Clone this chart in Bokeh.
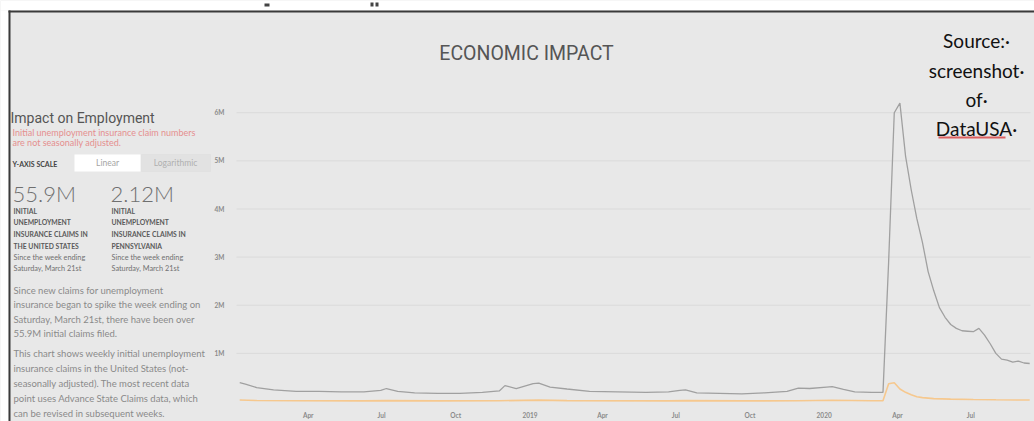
import pandas as pd
from bokeh.plotting import figure
from bokeh.models import Label, BoxAnnotation, FixedTicker, Range1d
from bokeh.embed import file_html
from bokeh.resources import INLINE

# ---------------- data (millions of claims) ----------------
us_dates = ["2018-01-06", "2018-01-13", "2018-01-27", "2018-02-17", "2018-03-17", "2018-04-14",
            "2018-05-12", "2018-06-09", "2018-06-30", "2018-07-07", "2018-07-21", "2018-08-11",
            "2018-09-08", "2018-10-06", "2018-11-03", "2018-11-24", "2018-12-01", "2018-12-15",
            "2019-01-05", "2019-01-12", "2019-01-26", "2019-02-16", "2019-03-16", "2019-04-20",
            "2019-05-25", "2019-06-22", "2019-07-06", "2019-07-13", "2019-07-27", "2019-08-24",
            "2019-09-21", "2019-10-19", "2019-11-16", "2019-11-30", "2019-12-14", "2020-01-04",
            "2020-01-11", "2020-01-25", "2020-02-08", "2020-02-29", "2020-03-14", "2020-03-21",
            "2020-03-28", "2020-04-04", "2020-04-11", "2020-04-18", "2020-04-25", "2020-05-02",
            "2020-05-09", "2020-05-16", "2020-05-23", "2020-05-30", "2020-06-06", "2020-06-13",
            "2020-06-20", "2020-06-27", "2020-07-04", "2020-07-11", "2020-07-18", "2020-07-25",
            "2020-08-01", "2020-08-08", "2020-08-15", "2020-08-22", "2020-08-29", "2020-09-05",
            "2020-09-12"]
us_claims_m = [0.39, 0.36, 0.29, 0.24, 0.21, 0.21,
               0.20, 0.20, 0.23, 0.27, 0.21, 0.18,
               0.17, 0.17, 0.19, 0.22, 0.33, 0.27,
               0.37, 0.38, 0.30, 0.26, 0.21, 0.20,
               0.19, 0.20, 0.23, 0.24, 0.18, 0.17,
               0.16, 0.18, 0.21, 0.28, 0.27, 0.30,
               0.31, 0.25, 0.20, 0.19, 0.19, 2.90,
               6.00, 6.20, 5.10, 4.40, 3.80, 3.30,
               2.70, 2.30, 1.95, 1.75, 1.60, 1.52,
               1.47, 1.46, 1.45, 1.52, 1.38, 1.20,
               1.00, 0.88, 0.86, 0.82, 0.84, 0.80,
               0.79]

pa_dates = ["2018-01-06", "2018-01-27", "2018-03-17", "2018-06-09", "2018-07-07", "2018-09-08",
            "2018-11-24", "2019-01-12", "2019-02-16", "2019-06-22", "2019-07-13", "2019-09-21",
            "2019-11-30", "2020-01-11", "2020-02-29", "2020-03-14", "2020-03-21", "2020-03-28",
            "2020-04-04", "2020-04-11", "2020-04-18", "2020-04-25", "2020-05-02", "2020-05-16",
            "2020-06-06", "2020-07-04", "2020-08-01", "2020-09-12"]
pa_claims_m = [0.030, 0.020, 0.016, 0.014, 0.018, 0.012,
               0.016, 0.028, 0.018, 0.014, 0.018, 0.012,
               0.016, 0.026, 0.015, 0.015, 0.370, 0.390,
               0.260, 0.190, 0.140, 0.100, 0.080, 0.060,
               0.050, 0.040, 0.035, 0.030]

x_tick_dates = ["2018-04-01", "2018-07-01", "2018-10-01", "2019-01-01", "2019-04-01",
                "2019-07-01", "2019-10-01", "2020-01-01", "2020-04-01", "2020-07-01"]
x_tick_labels = ["Apr", "Jul", "Oct", "2019", "Apr", "Jul", "Oct", "2020", "Apr", "Jul"]
y_ticks_m = [1, 2, 3, 4, 5, 6]
y_tick_labels = ["1M", "2M", "3M", "4M", "5M", "6M"]

# ---------------- layout constants (page pixels) ----------------
W, H = 1034, 421
CL, CR, CT, CB = 236, 1030, 93, 401          # chart area on the canvas
T0, T1 = pd.Timestamp("2018-01-02"), pd.Timestamp("2020-09-13")
Y0, Y1 = 0.0, 6.4
BG = "#e8e8e8"
HEAD = "Roboto"
BODY = "Lato"

dpp = (T1 - T0) / (CR - CL)                 # time per pixel
vpp = (Y1 - Y0) / (CB - CT)                 # value per pixel
x_start, x_end = T0 - dpp * CL, T1 + dpp * (W - CR)
y_start, y_end = Y0 - vpp * (H - CB), Y1 + vpp * CT


def ms(d):
    return int(pd.Timestamp(d).value // 10**6)


p = figure(width=W, height=H, x_axis_type="datetime", title=None,
           x_range=Range1d(x_start, x_end), y_range=Range1d(y_start, y_end),
           output_backend="svg", toolbar_location=None,
           min_border_left=0, min_border_right=0, min_border_top=0, min_border_bottom=0)
p.background_fill_color = BG
p.border_fill_color = BG
p.outline_line_color = None
p.xgrid.grid_line_color = None
p.ygrid.grid_line_color = None

# horizontal grid lines at the y ticks, only across the chart area
gx0 = [T0] * len(y_ticks_m)
gx1 = [T1] * len(y_ticks_m)
p.segment(x0=gx0, x1=gx1, y0=y_ticks_m, y1=y_ticks_m, line_color="#dadada", line_width=1)

p.line(pd.to_datetime(pa_dates), pa_claims_m, line_color="#f6c88e", line_width=1.6)
p.line(pd.to_datetime(us_dates), us_claims_m, line_color="#a0a0a0", line_width=1.3)

xt = [ms(d) for d in x_tick_dates]
p.xaxis.ticker = FixedTicker(ticks=xt)
p.xaxis.major_label_overrides = {t: lab for t, lab in zip(xt, x_tick_labels)}
p.xaxis.fixed_location = 0
p.yaxis.ticker = FixedTicker(ticks=y_ticks_m)
p.yaxis.major_label_overrides = {t: lab for t, lab in zip(y_ticks_m, y_tick_labels)}
p.yaxis.fixed_location = ms(T0)
for ax in (p.xaxis, p.yaxis):
    ax.axis_line_color = None
    ax.major_tick_line_color = None
    ax.minor_tick_line_color = None
    ax.major_label_text_font = BODY
    ax.major_label_text_color = "#8a8a8a"
    ax.major_label_text_font_size = "6.5px"
    ax.major_label_text_font_style = "bold"
p.xaxis.major_label_standoff = 4
p.yaxis.major_label_standoff = 6


def put(text, px, py, size, color, font=BODY, style="normal", align="left", baseline="middle", **kw):
    p.add_layout(Label(x=px, y=H - py, x_units="screen", y_units="screen", text=text,
                       text_font=font, text_font_size=f"{size}px", text_color=color,
                       text_font_style=style, text_align=align, text_baseline=baseline, **kw))


def box(px0, py0, px1, py1, fill, line=None, alpha=1.0):
    p.add_layout(BoxAnnotation(left=px0, right=px1, top=H - py0, bottom=H - py1,
                               left_units="screen", right_units="screen",
                               top_units="screen", bottom_units="screen",
                               fill_color=fill, fill_alpha=alpha,
                               line_color=line, line_width=1, level="underlay"))


# frame of the screenshot: white margin and dark border lines
box(0, 0, W, 10, "#ffffff")
box(0, 10, 8, H, "#ffffff")
box(8, 10, W, 12, "#3a3a3a")
box(8, 10, 10, H, "#3a3a3a")
# cut-off glyph remnants above the frame
box(264, 3, 269, 6, "#444444")
box(370, 2, 373, 6, "#444444")
box(375, 2, 378, 6, "#444444")

# title
put("ECONOMIC IMPACT", 526, 53, 19.5, "#555555", font=HEAD, align="center")

# source note
for txt, yy in [("Source:\u00b7", 40), ("screenshot\u00b7", 70), ("of\u00b7", 99), ("DataUSA\u00b7", 128)]:
    put(txt, 976, yy, 19, "#111111", font=BODY, align="center")
box(938, 136, 1005, 138, "#d94848", alpha=0.85)

# left panel
put("Impact on Employment", 10, 117, 14, "#555555", font=HEAD)
put("Initial unemployment insurance claim numbers", 12, 131.5, 9, "#e58f8f")
put("are not seasonally adjusted.", 12, 141.5, 9, "#e58f8f")
put("Y-AXIS SCALE", 12, 163, 7, "#444444", style="bold")
box(74, 154, 140, 171, "#ffffff")
box(141, 154, 210, 171, "#e2e2e2", line="#d6d6d6")
put("Linear", 107, 162.5, 8.5, "#a5a5a5", align="center")
put("Logarithmic", 175, 162.5, 8.5, "#b0b0b0", align="center")

put("55.9M", 12, 193, 22, "#6f6f6f", font="Lato Light")
put("2.12M", 110, 193, 22, "#6f6f6f", font="Lato Light")
left_block = ["INITIAL", "UNEMPLOYMENT", "INSURANCE CLAIMS IN", "THE UNITED STATES"]
right_block = ["INITIAL", "UNEMPLOYMENT", "INSURANCE CLAIMS IN", "PENNSYLVANIA"]
for a, b, yy in zip(left_block, right_block, [210, 221, 233, 245]):
    put(a, 13, yy, 6.8, "#5a5a5a", style="bold")
    put(b, 111, yy, 6.8, "#5a5a5a", style="bold")
for t, yy in zip(["Since the week ending", "Saturday, March 21st"], [256.5, 267.5]):
    put(t, 13, yy, 7.3, "#707070")
    put(t, 111, yy, 7.3, "#707070")

para1 = ["Since new claims for unemployment",
         "insurance began to spike the week ending on",
         "Saturday, March 21st, there have been over",
         "55.9M initial claims filed."]
for t, yy in zip(para1, [290, 304, 318.5, 333]):
    put(t, 13, yy, 9.5, "#8a8a8a")
para2 = ["This chart shows weekly initial unemployment",
         "insurance claims in the United States (not-",
         "seasonally adjusted). The most recent data",
         "point uses Advance State Claims data, which",
         "can be revised in subsequent weeks."]
for t, yy in zip(para2, [353, 368, 383, 398, 413]):
    put(t, 13, yy, 9.5, "#8a8a8a")

open("out.html", "w").write(file_html(p, INLINE))
